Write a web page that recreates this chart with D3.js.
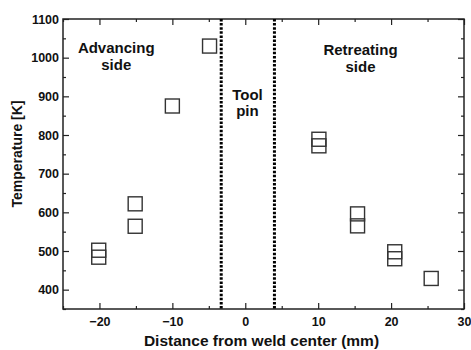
<!DOCTYPE html>
<html lang="en">
<head>
<meta charset="utf-8">
<title>Temperature vs distance</title>
<script src="https://cdn.jsdelivr.net/npm/d3@7"></script>
<style>
  body { margin: 0; background: #fff; }
  text { font-family: "Liberation Sans", Arial, sans-serif; font-weight: bold; fill: #111; }
</style>
</head>
<body>
<svg id="chart"></svg>
<script>
// values
var distance    = [-20.1, -20.1, -15.1, -15.1, -10, -4.9, 10.1, 10.1, 15.4, 15.4, 20.5, 20.5, 25.5];
var temperature = [502, 484, 622, 564, 875, 1030, 789, 772, 596, 565, 498, 480, 429];
var xTicks = [-20, -10, 0, 10, 20, 30];
var xMinor = [-25, -15, -5, 5, 15, 25];
var yTicks = [400, 500, 600, 700, 800, 900, 1000, 1100];
var yMinor = [350, 450, 550, 650, 750, 850, 950, 1050];
var pinEdges = [-3.3, 4.0];

var width = 471, height = 350;
var margin = {top: 19, right: 7, bottom: 41, left: 63};

var svg = d3.select("#chart").attr("width", width).attr("height", height);

var x = d3.scaleLinear().domain([-25, 30]).range([margin.left, width - margin.right]);
var y = d3.scaleLinear().domain([350, 1100]).range([height - margin.bottom, margin.top]);

var x0 = x.range()[0], x1 = x.range()[1];
var y0 = y.range()[0], y1 = y.range()[1];

function styleAxis(g) {
  g.select(".domain").remove();
  g.selectAll(".tick line").attr("stroke", "#222").attr("stroke-width", 1.2);
  g.selectAll(".tick text").style("font-size", "12.5px").attr("fill", "#111");
}

// bottom
svg.append("g").attr("transform", "translate(0," + y0 + ")")
  .call(d3.axisBottom(x).tickValues(xTicks).tickSize(-6).tickPadding(8).tickFormat(d3.format("d")))
  .call(styleAxis);
svg.append("g").attr("transform", "translate(0," + y0 + ")")
  .call(d3.axisBottom(x).tickValues(xMinor).tickSize(-3).tickFormat(""))
  .call(styleAxis);
// top
svg.append("g").attr("transform", "translate(0," + y1 + ")")
  .call(d3.axisTop(x).tickValues(xTicks).tickSize(-6).tickFormat(""))
  .call(styleAxis);
svg.append("g").attr("transform", "translate(0," + y1 + ")")
  .call(d3.axisTop(x).tickValues(xMinor).tickSize(-3).tickFormat(""))
  .call(styleAxis);
// left
svg.append("g").attr("transform", "translate(" + x0 + ",0)")
  .call(d3.axisLeft(y).tickValues(yTicks).tickSize(-6).tickPadding(4).tickFormat(d3.format("d")))
  .call(styleAxis);
svg.append("g").attr("transform", "translate(" + x0 + ",0)")
  .call(d3.axisLeft(y).tickValues(yMinor).tickSize(-3).tickFormat(""))
  .call(styleAxis);
// right
svg.append("g").attr("transform", "translate(" + x1 + ",0)")
  .call(d3.axisRight(y).tickValues(yTicks).tickSize(-6).tickFormat(""))
  .call(styleAxis);
svg.append("g").attr("transform", "translate(" + x1 + ",0)")
  .call(d3.axisRight(y).tickValues(yMinor).tickSize(-3).tickFormat(""))
  .call(styleAxis);

// frame
svg.append("rect")
  .attr("x", x0).attr("y", y1)
  .attr("width", x1 - x0).attr("height", y0 - y1)
  .attr("fill", "none").attr("stroke", "#222").attr("stroke-width", 1.5);

// tool pin edges
svg.selectAll(".pin")
  .data(pinEdges)
  .enter().append("line")
  .attr("class", "pin")
  .attr("x1", d => x(d)).attr("x2", d => x(d))
  .attr("y1", y1).attr("y2", y0)
  .attr("stroke", "#000")
  .attr("stroke-width", 3)
  .attr("stroke-dasharray", "2.5,1.6");

// squares
var s = 14;
svg.selectAll(".pt")
  .data(distance)
  .enter().append("rect")
  .attr("class", "pt")
  .attr("x", d => x(d) - s / 2)
  .attr("y", (d, i) => y(temperature[i]) - s / 2)
  .attr("width", s).attr("height", s)
  .attr("fill", "none")
  .attr("stroke", "#333")
  .attr("stroke-width", 1.4);

// annotations
function label(lines, cx, top) {
  var t = svg.append("text")
    .attr("text-anchor", "middle")
    .style("font-size", "15px");
  lines.forEach(function(l, i) {
    t.append("tspan").attr("x", x(cx)).attr("y", y(top) + i * 16.5).text(l);
  });
}
label(["Advancing", "side"], -17.7, 1012);
label(["Tool", "pin"], 0.3, 891);
label(["Retreating", "side"], 15.8, 1006);

// axis titles
svg.append("text")
  .attr("text-anchor", "middle")
  .attr("x", (x0 + x1) / 2 - 2)
  .attr("y", 346)
  .style("font-size", "15.5px")
  .text("Distance from weld center (mm)");

svg.append("text")
  .attr("text-anchor", "middle")
  .attr("transform", "translate(22," + ((y0 + y1) / 2 - 10) + ") rotate(-90)")
  .style("font-size", "14px")
  .text("Temperature [K]");
</script>
</body>
</html>
